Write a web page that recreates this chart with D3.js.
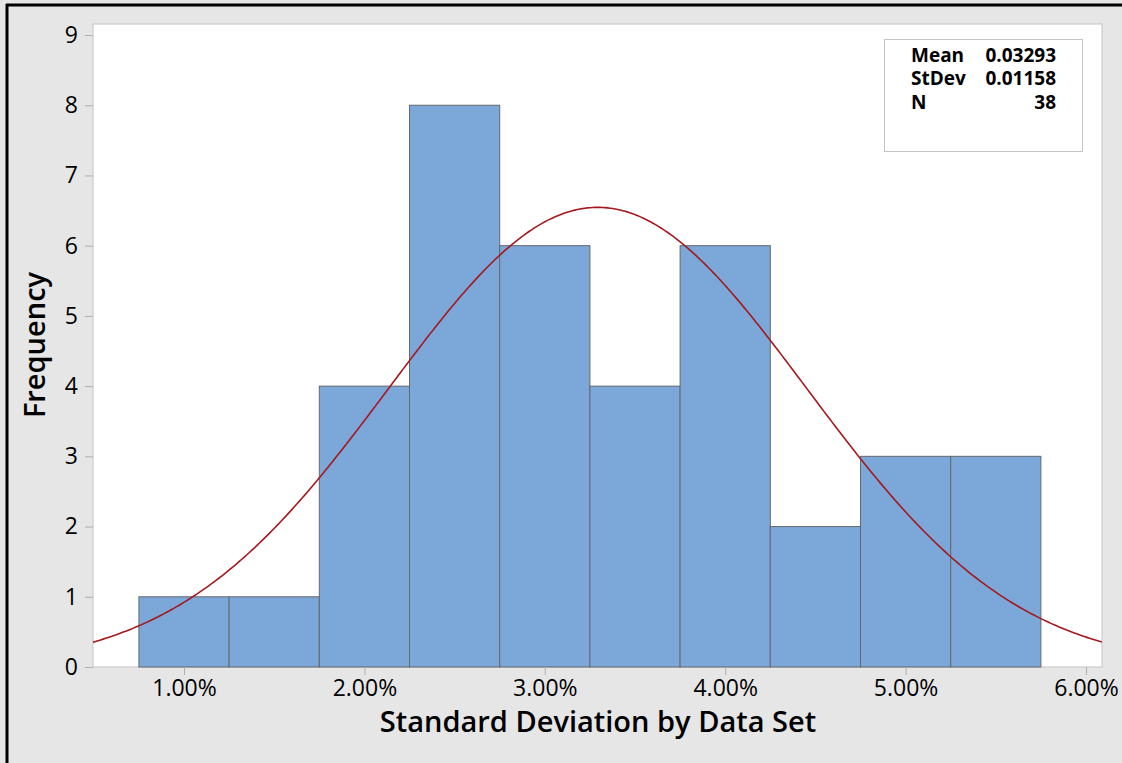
<!DOCTYPE html>
<html>
<head>
<meta charset="utf-8">
<script src="https://cdn.jsdelivr.net/npm/d3@7"></script>
<style>
  html, body { margin: 0; padding: 0; background: #e6e6e6; }
  svg { display: block; }
  text { font-family: "Open Sans", "Noto Sans", sans-serif; fill: #000; }
</style>
</head>
<body>
<svg id="chart" width="1122" height="763"></svg>
<script>
// Histogram bins (percent), counts per bin
const binStarts = [0.75, 1.25, 1.75, 2.25, 2.75, 3.25, 3.75, 4.25, 4.75, 5.25];
const binWidth = 0.5;
const counts = [1, 1, 4, 8, 6, 4, 6, 2, 3, 3];

// Fitted normal summary
const statLabels = ["Mean", "StDev", "N"];
const statValues = ["0.03293", "0.01158", "38"];
const fitMean = 0.03293;
const fitSd = 0.01158;
const fitN = 38;

// Axis ticks
const xTicks = [1, 2, 3, 4, 5, 6];
const yTicks = [0, 1, 2, 3, 4, 5, 6, 7, 8, 9];

const W = 1122, H = 763;
const plot = { left: 93, top: 24, right: 1102, bottom: 667 };

const svg = d3.select("#chart");

// outer frame: light gray background with dark left/top rule
svg.append("rect").attr("x", 0).attr("y", 0).attr("width", W).attr("height", H).attr("fill", "#e6e6e6");
svg.append("line").attr("x1", 7).attr("x2", 7).attr("y1", 4).attr("y2", H).attr("stroke", "#000").attr("stroke-width", 3);
svg.append("line").attr("x1", 6).attr("x2", W).attr("y1", 5).attr("y2", 5).attr("stroke", "#000").attr("stroke-width", 3);

const x = d3.scaleLinear().domain([0.4955, 6.0887]).range([plot.left, plot.right]);
const y = d3.scaleLinear().domain([0, 9]).range([plot.bottom, plot.bottom - 9 * 70.22]);

// plot area
svg.append("rect")
  .attr("x", plot.left).attr("y", plot.top)
  .attr("width", plot.right - plot.left).attr("height", plot.bottom - plot.top)
  .attr("fill", "#fff").attr("stroke", "#c4c4c4").attr("stroke-width", 1);

svg.append("clipPath").attr("id", "clip").append("rect")
  .attr("x", plot.left).attr("y", plot.top)
  .attr("width", plot.right - plot.left).attr("height", plot.bottom - plot.top);

// bars
svg.append("g").selectAll("rect").data(binStarts).join("rect")
  .attr("x", d => x(d))
  .attr("y", (d, i) => y(counts[i]))
  .attr("width", d => x(d + binWidth) - x(d))
  .attr("height", (d, i) => y(0) - y(counts[i]))
  .attr("fill", "#7ba7d9")
  .attr("stroke", "#66686d")
  .attr("stroke-width", 1);

// normal fit curve scaled to counts
const scaleK = fitN * (binWidth / 100);
const density = v => {
  const z = (v / 100 - fitMean) / fitSd;
  return scaleK * Math.exp(-0.5 * z * z) / (fitSd * Math.sqrt(2 * Math.PI));
};
const xs = d3.range(0, 401).map(i => x.domain()[0] + (x.domain()[1] - x.domain()[0]) * i / 400);
svg.append("path")
  .attr("clip-path", "url(#clip)")
  .datum(xs)
  .attr("fill", "none")
  .attr("stroke", "#a3191e")
  .attr("stroke-width", 1.6)
  .attr("d", d3.line().x(d => x(d)).y(d => y(density(d))));

// y axis
const yAxis = svg.append("g").attr("transform", `translate(${plot.left},0)`)
  .call(d3.axisLeft(y).tickValues(yTicks).tickSize(8).tickPadding(7).tickFormat(d3.format("d")));
yAxis.select(".domain").remove();
yAxis.selectAll(".tick line").attr("stroke", "#b0b0b0");
yAxis.selectAll(".tick text").attr("font-size", 23).attr("font-weight", 500)
  .attr("font-family", "'Open Sans', sans-serif").attr("fill", "#000");

// x axis
const xAxis = svg.append("g").attr("transform", `translate(0,${plot.bottom})`)
  .call(d3.axisBottom(x).tickValues(xTicks).tickSize(8).tickPadding(5).tickFormat(d => d3.format(".2f")(d) + "%"));
xAxis.select(".domain").remove();
xAxis.selectAll(".tick line").attr("stroke", "#b0b0b0");
xAxis.selectAll(".tick text").attr("font-size", 23).attr("font-weight", 500)
  .attr("font-family", "'Open Sans', sans-serif").attr("fill", "#000");

// axis titles
svg.append("text")
  .attr("x", 598).attr("y", 732)
  .attr("text-anchor", "middle")
  .attr("font-size", 29).attr("font-weight", 600)
  .text("Standard Deviation by Data Set");

svg.append("text")
  .attr("transform", "translate(45,345) rotate(-90)")
  .attr("text-anchor", "middle")
  .attr("font-size", 29).attr("font-weight", 600)
  .text("Frequency");

// summary box
const box = svg.append("g");
box.append("rect")
  .attr("x", 884.5).attr("y", 39.5).attr("width", 198).attr("height", 112)
  .attr("fill", "#fff").attr("stroke", "#c4c4c4");
statLabels.forEach((lab, i) => {
  box.append("text").attr("x", 911).attr("y", 61.5 + i * 23.5)
    .attr("font-family", "'DejaVu Sans', sans-serif")
    .attr("font-size", 19).attr("font-weight", 700).text(lab);
  box.append("text").attr("x", 1056).attr("y", 61.5 + i * 23.5)
    .attr("text-anchor", "end")
    .attr("font-family", "'DejaVu Sans', sans-serif")
    .attr("font-size", 19).attr("font-weight", 700).text(statValues[i]);
});
</script>
</body>
</html>
